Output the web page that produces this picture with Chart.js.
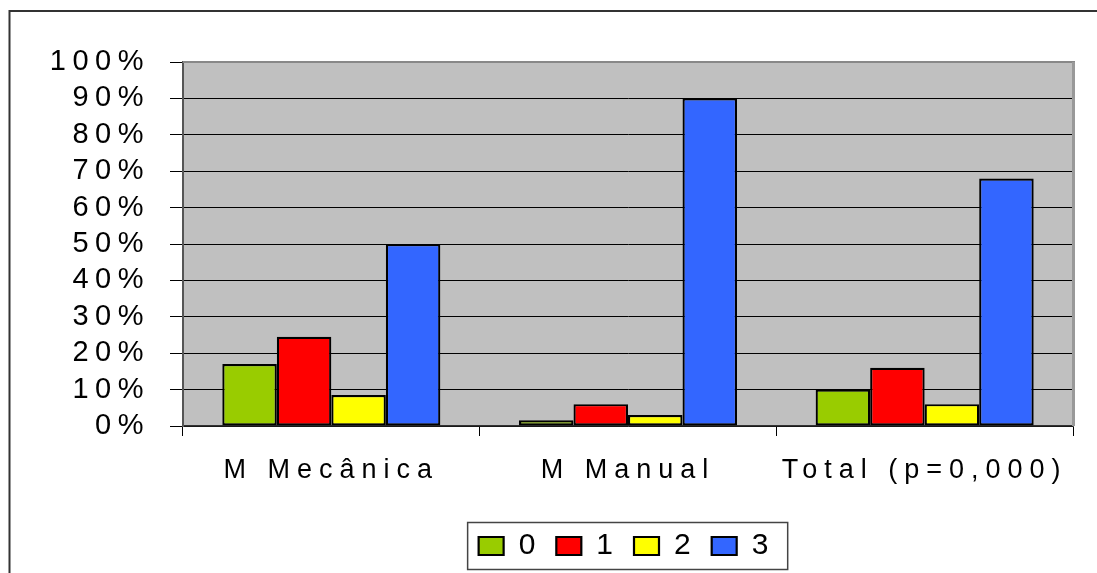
<!DOCTYPE html>
<html>
<head>
<meta charset="utf-8">
<script src="https://cdn.jsdelivr.net/npm/chart.js@4"></script>
<style>
  html, body { margin: 0; padding: 0; background: #ffffff; }
  canvas { display: block; }
</style>
</head>
<body>
<canvas id="c" width="1097" height="573"></canvas>
<script>
// ---- data ----
const categories = ['M Mecânica', 'M Manual', 'Total (p=0,000)'];
const seriesNames = ['0', '1', '2', '3'];
const series0 = [17, 1.6, 10];
const series1 = [24.5, 6, 16];
const series2 = [8.5, 3, 6];
const series3 = [50, 90, 68];
const yTickValues = [0, 10, 20, 30, 40, 50, 60, 70, 80, 90, 100];

// ---- styles ----
const seriesColors = ['#99CC00', '#FF0000', '#FFFF00', '#3366FF'];
const FONT = "'Liberation Sans', Arial, sans-serif";
const X_FONT_SIZE = 27, Y_FONT_SIZE = 29, LEGEND_FONT_SIZE = 30;
const spacingBySize = { [X_FONT_SIZE]: '7px', [Y_FONT_SIZE]: '6.5px', [LEGEND_FONT_SIZE]: '9px' };

const canvas = document.getElementById('c');
const ctx = canvas.getContext('2d');
// spaced-out lettering like the original (per font size)
const fontDesc = Object.getOwnPropertyDescriptor(CanvasRenderingContext2D.prototype, 'font');
Object.defineProperty(ctx, 'font', {
  configurable: true,
  get() { return fontDesc.get.call(this); },
  set(v) {
    fontDesc.set.call(this, v);
    const m = /(\d+(?:\.\d+)?)px/.exec(v);
    this.letterSpacing = (m && spacingBySize[m[1]]) || '0px';
  }
});

const allSeries = [series0, series1, series2, series3];
const datasets = allSeries.map((vals, i) => ({
  label: seriesNames[i],
  data: vals,
  backgroundColor: seriesColors[i],
  borderColor: '#000000',
  borderWidth: 2.2,
  borderSkipped: false,
  barPercentage: 1.0,
  categoryPercentage: 0.735
}));

const decor = {
  id: 'decor',
  beforeDraw(chart) {
    const c = chart.ctx, a = chart.chartArea;
    c.save();
    c.fillStyle = '#ffffff';
    c.fillRect(0, 0, chart.width, chart.height);
    // outer chart frame (cut off at right/bottom)
    c.strokeStyle = '#333333';
    c.lineWidth = 2;
    c.strokeRect(9.5, 11, chart.width + 20, chart.height + 20);
    // plot background
    c.fillStyle = '#C0C0C0';
    c.fillRect(a.left, a.top, a.right - a.left, a.bottom - a.top);
    c.restore();
  },
  beforeDatasetsDraw(chart) {
    const c = chart.ctx, a = chart.chartArea;
    c.save();
    c.strokeStyle = '#888888';
    c.lineWidth = 2;
    c.beginPath();
    c.moveTo(a.left, a.top);
    c.lineTo(a.right + 2, a.top);
    c.stroke();
    c.strokeStyle = '#999999';
    c.lineWidth = 3;
    c.beginPath();
    c.moveTo(a.right + 0.5, a.top);
    c.lineTo(a.right + 0.5, a.bottom);
    c.stroke();
    c.restore();
  },
  afterDraw(chart) {
    const lg = chart.legend;
    if (!lg || !lg.legendHitBoxes || !lg.legendHitBoxes.length) return;
    const hb = lg.legendHitBoxes;
    const first = hb[0], last = hb[hb.length - 1];
    const cy = first.top + first.height / 2;
    const left = first.left - 11, right = last.left + 76;
    const c = chart.ctx;
    c.save();
    c.strokeStyle = '#444444';
    c.lineWidth = 1.5;
    c.strokeRect(left, cy - 23.5, right - left, 47);
    c.restore();
  }
};

new Chart(ctx, {
  type: 'bar',
  data: { labels: categories, datasets },
  plugins: [decor],
  options: {
    responsive: false,
    animation: false,
    devicePixelRatio: 1,
    layout: { padding: { left: 0, top: 62, right: 24, bottom: 2 } },
    plugins: {
      tooltip: { enabled: false },
      title: { display: false },
      legend: {
        position: 'bottom',
        fullSize: false,
        labels: {
          boxWidth: 25,
          boxHeight: 18,
          padding: 12,
          color: '#000000',
          font: { family: FONT, size: LEGEND_FONT_SIZE }
        }
      }
    },
    scales: {
      x: {
        offset: true,
        grid: { offset: true, drawOnChartArea: false, drawTicks: true, tickLength: 10, color: '#000000', lineWidth: 1 },
        border: { color: '#333333', width: 1.5 },
        ticks: {
          color: '#000000',
          font: { family: FONT, size: X_FONT_SIZE },
          padding: 18,
          maxRotation: 0,
          autoSkip: false
        },
        afterFit(s) { s.height = 93; }
      },
      y: {
        min: 0,
        max: 100,
        afterBuildTicks(s) { s.ticks = yTickValues.map(v => ({ value: v })); },
        ticks: {
          color: '#000000',
          font: { family: FONT, size: Y_FONT_SIZE },
          padding: 20,
          autoSkip: false,
          callback: v => v + '%'
        },
        grid: { color: '#000000', lineWidth: 1, tickLength: 13 },
        border: { color: '#555555', width: 2 },
        afterFit(s) { s.width = 183; }
      }
    }
  }
});
</script>
</body>
</html>
